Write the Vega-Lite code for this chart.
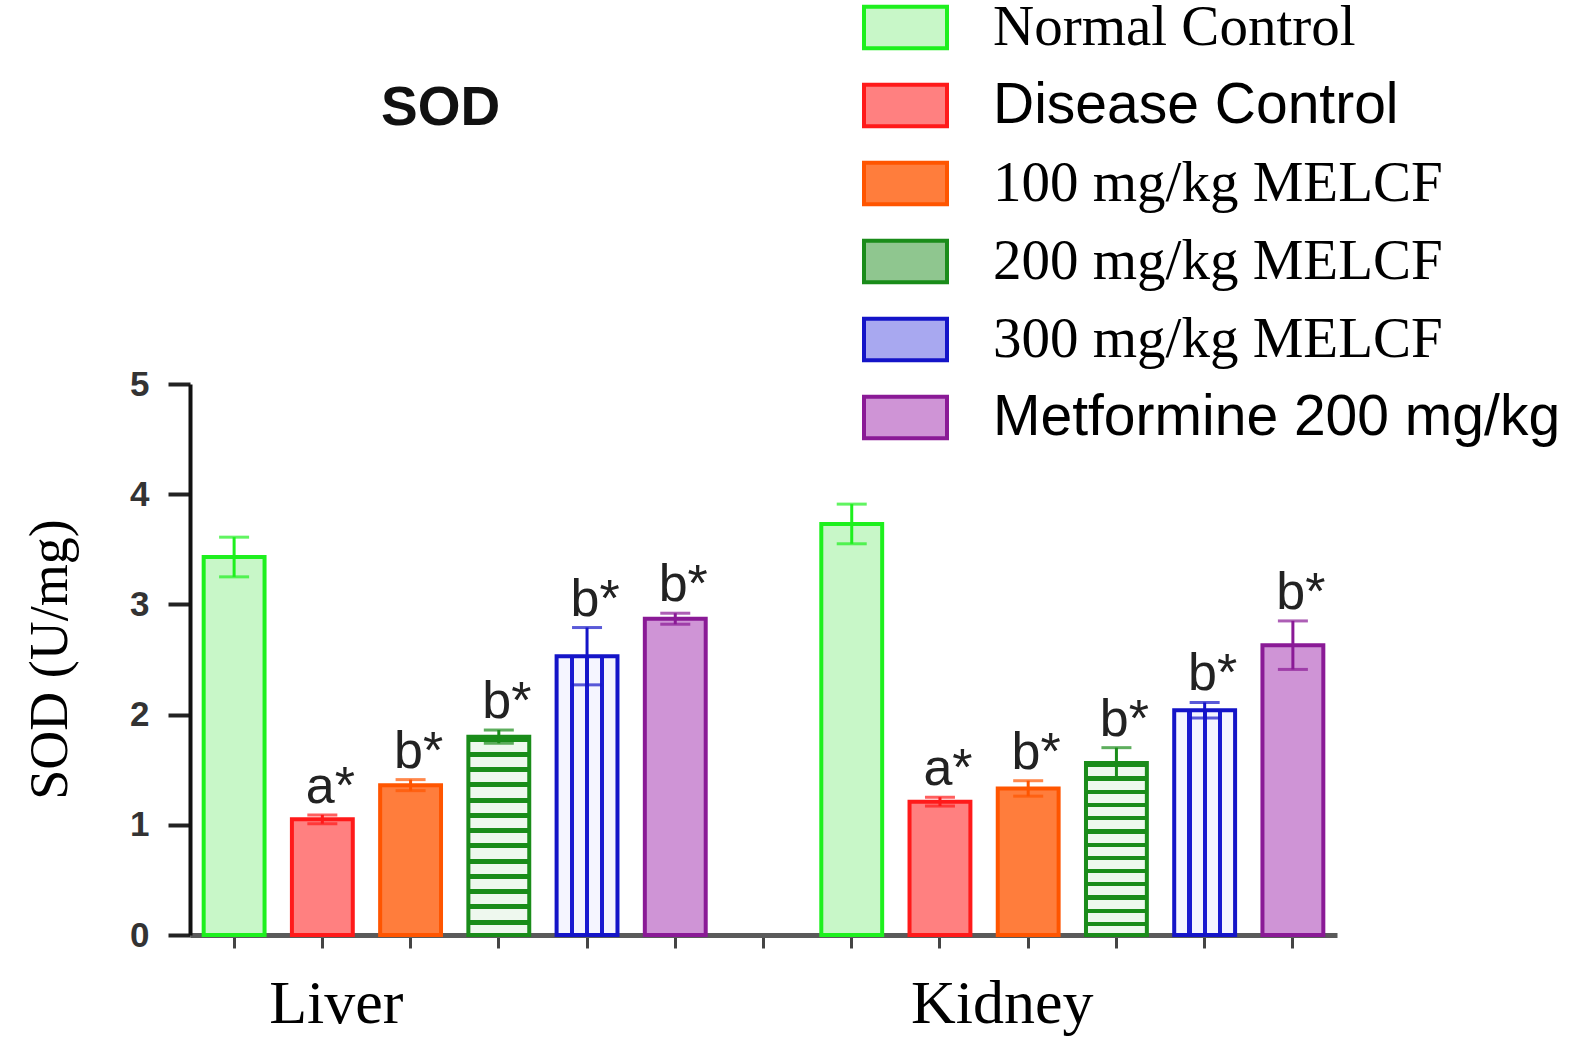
{
  "$schema": "https://vega.github.io/schema/vega-lite/v6.json",
  "width": 1147,
  "height": 551,
  "autosize": {"type": "none"},
  "padding": {"left": 190, "top": 384, "right": 257, "bottom": 103},
  "background": "white",
  "config": {"view": {"stroke": null}},
  "title": {
    "text": "SOD",
    "anchor": "start",
    "frame": "group",
    "orient": "top",
    "offset": 0,
    "dy": 196,
    "baseline": "alphabetic",
    "dx": 191,
    "font": "Liberation Sans",
    "fontSize": 55,
    "fontWeight": "bold",
    "color": "#111"
  },
  "data": {
    "values": [
      {"organ": "Liver", "group": "Normal Control", "slot": "L1", "mean": 3.43, "err": 0.18, "upper": 3.61, "label": ""},
      {"organ": "Liver", "group": "Disease Control", "slot": "L2", "mean": 1.05, "err": 0.04, "upper": 1.09, "label": "a*"},
      {"organ": "Liver", "group": "100 mg/kg MELCF", "slot": "L3", "mean": 1.36, "err": 0.05, "upper": 1.41, "label": "b*"},
      {"organ": "Liver", "group": "200 mg/kg MELCF", "slot": "L4", "mean": 1.8, "err": 0.06, "upper": 1.86, "label": "b*"},
      {"organ": "Liver", "group": "300 mg/kg MELCF", "slot": "L5", "mean": 2.53, "err": 0.26, "upper": 2.79, "label": "b*"},
      {"organ": "Liver", "group": "Metformine 200 mg/kg", "slot": "L6", "mean": 2.87, "err": 0.05, "upper": 2.92, "label": "b*"},
      {"organ": "Kidney", "group": "Normal Control", "slot": "K1", "mean": 3.73, "err": 0.18, "upper": 3.91, "label": ""},
      {"organ": "Kidney", "group": "Disease Control", "slot": "K2", "mean": 1.21, "err": 0.04, "upper": 1.25, "label": "a*"},
      {"organ": "Kidney", "group": "100 mg/kg MELCF", "slot": "K3", "mean": 1.33, "err": 0.07, "upper": 1.4, "label": "b*"},
      {"organ": "Kidney", "group": "200 mg/kg MELCF", "slot": "K4", "mean": 1.56, "err": 0.14, "upper": 1.7, "label": "b*"},
      {"organ": "Kidney", "group": "300 mg/kg MELCF", "slot": "K5", "mean": 2.04, "err": 0.07, "upper": 2.11, "label": "b*"},
      {"organ": "Kidney", "group": "Metformine 200 mg/kg", "slot": "K6", "mean": 2.63, "err": 0.22, "upper": 2.85, "label": "b*"}
    ]
  },
  "encoding": {
    "x": {
      "field": "slot",
      "type": "nominal",
      "sort": null,
      "scale": {
        "domain": ["L1", "L2", "L3", "L4", "L5", "L6", "gap", "K1", "K2", "K3", "K4", "K5", "K6"],
        "paddingInner": 0.31,
        "paddingOuter": 0.155
      },
      "axis": {
        "title": null,
        "labelExpr": "datum.value === 'L2' ? 'Liver' : (datum.value === 'K3' ? 'Kidney' : '')",
        "labelFont": "Liberation Serif",
        "labelFontSize": 62,
        "labelColor": "#000",
        "labelPadding": 25,
        "labelOffset": {"condition": {"test": "datum.value === 'L2'", "value": 14}, "value": -26},
        "labelOverlap": false,
        "labelBound": false,
        "labelFlush": false,
        "labelAngle": 0,
        "labelLimit": 400,
        "tickSize": 13,
        "tickWidth": 3,
        "tickColor": "#444",
        "domainColor": "#5a5a5a",
        "domainWidth": 5,
        "grid": false
      }
    }
  },
  "layer": [
    {
      "mark": {"type": "bar", "strokeWidth": 4},
      "encoding": {
        "y": {
          "field": "mean",
          "type": "quantitative",
          "scale": {"domain": [0, 5]},
          "title": "SOD (U/mg)",
          "axis": {
            "titleFont": "Liberation Serif",
            "titleFontSize": 54,
            "titleFontWeight": "normal",
            "titleColor": "#000",
            "titleAngle": -90,
            "titleX": -124,
            "titleY": 275,
            "titleAlign": "center",
            "titleBaseline": "alphabetic",
            "values": [0, 1, 2, 3, 4, 5],
            "format": "d",
            "labelFont": "Liberation Sans",
            "labelFontSize": 35,
            "labelFontWeight": "bold",
            "labelColor": "#333",
            "labelPadding": 19,
            "tickSize": 22,
            "tickWidth": 4,
            "tickColor": "#222",
            "domainColor": "#111",
            "domainWidth": 4,
            "grid": false
          }
        },
        "fill": {
          "field": "group",
          "type": "nominal",
          "scale": {
            "domain": ["Normal Control", "Disease Control", "100 mg/kg MELCF", "200 mg/kg MELCF", "300 mg/kg MELCF", "Metformine 200 mg/kg"],
            "range": ["#c8f7c8", "#ff8080", "#ff7d3c", "#8fc68f", "#a8a8f0", "#cf94d6"]
          },
          "condition": [
            {
              "test": "datum.group === '200 mg/kg MELCF'",
              "value": {
                "gradient": "linear", "x1": 0, "y1": 0, "x2": 0, "y2": 1,
                "stops": [
                  {"offset": 0, "color": "#1a8c1a"}, {"offset": 0.025, "color": "#1a8c1a"}, {"offset": 0.025, "color": "#eef8ee"}, {"offset": 0.077, "color": "#eef8ee"},
                  {"offset": 0.077, "color": "#1a8c1a"}, {"offset": 0.102, "color": "#1a8c1a"}, {"offset": 0.102, "color": "#eef8ee"}, {"offset": 0.154, "color": "#eef8ee"},
                  {"offset": 0.154, "color": "#1a8c1a"}, {"offset": 0.179, "color": "#1a8c1a"}, {"offset": 0.179, "color": "#eef8ee"}, {"offset": 0.231, "color": "#eef8ee"},
                  {"offset": 0.231, "color": "#1a8c1a"}, {"offset": 0.256, "color": "#1a8c1a"}, {"offset": 0.256, "color": "#eef8ee"}, {"offset": 0.308, "color": "#eef8ee"},
                  {"offset": 0.308, "color": "#1a8c1a"}, {"offset": 0.333, "color": "#1a8c1a"}, {"offset": 0.333, "color": "#eef8ee"}, {"offset": 0.385, "color": "#eef8ee"},
                  {"offset": 0.385, "color": "#1a8c1a"}, {"offset": 0.41, "color": "#1a8c1a"}, {"offset": 0.41, "color": "#eef8ee"}, {"offset": 0.462, "color": "#eef8ee"},
                  {"offset": 0.462, "color": "#1a8c1a"}, {"offset": 0.487, "color": "#1a8c1a"}, {"offset": 0.487, "color": "#eef8ee"}, {"offset": 0.538, "color": "#eef8ee"},
                  {"offset": 0.538, "color": "#1a8c1a"}, {"offset": 0.563, "color": "#1a8c1a"}, {"offset": 0.563, "color": "#eef8ee"}, {"offset": 0.615, "color": "#eef8ee"},
                  {"offset": 0.615, "color": "#1a8c1a"}, {"offset": 0.64, "color": "#1a8c1a"}, {"offset": 0.64, "color": "#eef8ee"}, {"offset": 0.692, "color": "#eef8ee"},
                  {"offset": 0.692, "color": "#1a8c1a"}, {"offset": 0.717, "color": "#1a8c1a"}, {"offset": 0.717, "color": "#eef8ee"}, {"offset": 0.769, "color": "#eef8ee"},
                  {"offset": 0.769, "color": "#1a8c1a"}, {"offset": 0.794, "color": "#1a8c1a"}, {"offset": 0.794, "color": "#eef8ee"}, {"offset": 0.846, "color": "#eef8ee"},
                  {"offset": 0.846, "color": "#1a8c1a"}, {"offset": 0.871, "color": "#1a8c1a"}, {"offset": 0.871, "color": "#eef8ee"}, {"offset": 0.923, "color": "#eef8ee"},
                  {"offset": 0.923, "color": "#1a8c1a"}, {"offset": 0.948, "color": "#1a8c1a"}, {"offset": 0.948, "color": "#eef8ee"}, {"offset": 1, "color": "#eef8ee"}
                ]
              }
            },
            {
              "test": "datum.group === '300 mg/kg MELCF'",
              "value": {
                "gradient": "linear", "x1": 0, "y1": 0, "x2": 1, "y2": 0,
                "stops": [
                  {"offset": 0, "color": "#f5f5ff"}, {"offset": 0.215, "color": "#f5f5ff"}, {"offset": 0.215, "color": "#1a1ad0"}, {"offset": 0.285, "color": "#1a1ad0"},
                  {"offset": 0.285, "color": "#f5f5ff"}, {"offset": 0.465, "color": "#f5f5ff"}, {"offset": 0.465, "color": "#1a1ad0"}, {"offset": 0.535, "color": "#1a1ad0"},
                  {"offset": 0.535, "color": "#f5f5ff"}, {"offset": 0.715, "color": "#f5f5ff"}, {"offset": 0.715, "color": "#1a1ad0"}, {"offset": 0.785, "color": "#1a1ad0"},
                  {"offset": 0.785, "color": "#f5f5ff"}, {"offset": 1, "color": "#f5f5ff"}
                ]
              }
            }
          ],
          "legend": {
            "title": null,
            "orient": "none",
            "legendX": 672,
            "legendY": -400,
            "padding": 0,
            "symbolType": "M-1,-0.5H1V0.5H-1Z",
            "symbolSize": 6889,
            "symbolStrokeWidth": 4,
            "symbolOpacity": 1,
            "labelFont": {"expr": "datum.label === 'Disease Control' || datum.label === 'Metformine 200 mg/kg' ? 'Liberation Sans' : 'Liberation Serif'"},
            "labelFontSize": 57,
            "labelColor": "#000",
            "labelOffset": 44,
            "labelLimit": 800,
            "rowPadding": 5
          }
        },
        "stroke": {
          "field": "group",
          "type": "nominal",
          "scale": {
            "domain": ["Normal Control", "Disease Control", "100 mg/kg MELCF", "200 mg/kg MELCF", "300 mg/kg MELCF", "Metformine 200 mg/kg"],
            "range": ["#1ef01e", "#ff1a1a", "#ff5500", "#1a8c1a", "#1414c8", "#8a1a96"]
          },
          "legend": {
            "title": null,
            "orient": "none",
            "legendX": 672,
            "legendY": -400,
            "padding": 0,
            "symbolType": "M-1,-0.5H1V0.5H-1Z",
            "symbolSize": 6889,
            "symbolStrokeWidth": 4,
            "symbolOpacity": 1,
            "labelFont": {"expr": "datum.label === 'Disease Control' || datum.label === 'Metformine 200 mg/kg' ? 'Liberation Sans' : 'Liberation Serif'"},
            "labelFontSize": 57,
            "labelColor": "#000",
            "labelOffset": 44,
            "labelLimit": 800,
            "rowPadding": 5
          }
        }
      }
    },
    {
      "mark": {"type": "errorbar", "thickness": 3, "ticks": {"size": 30, "thickness": 3}},
      "encoding": {
        "y": {"field": "mean", "type": "quantitative", "title": "SOD (U/mg)"},
        "yError": {"field": "err"},
        "color": {
          "field": "group",
          "type": "nominal",
          "scale": {
            "domain": ["Normal Control", "Disease Control", "100 mg/kg MELCF", "200 mg/kg MELCF", "300 mg/kg MELCF", "Metformine 200 mg/kg"],
            "range": ["#1ef01e", "#ff1a1a", "#ff5500", "#1a8c1a", "#1414c8", "#8a1a96"]
          },
          "legend": null
        }
      }
    },
    {
      "mark": {"type": "text", "font": "Liberation Sans", "fontSize": 52, "baseline": "alphabetic", "align": "center", "dx": 8, "dy": -12, "color": "#222"},
      "encoding": {
        "y": {"field": "upper", "type": "quantitative", "title": "SOD (U/mg)"},
        "text": {"field": "label"}
      }
    }
  ]
}
